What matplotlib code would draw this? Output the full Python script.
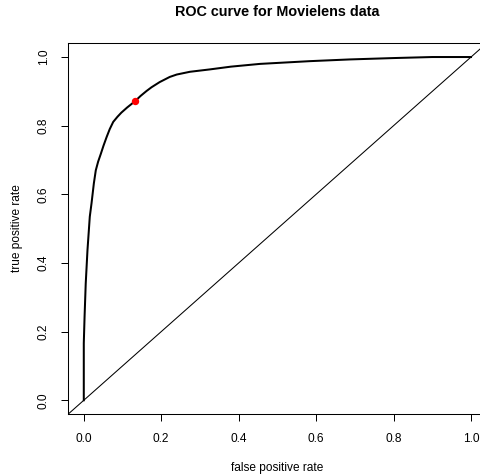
import matplotlib
matplotlib.use("Agg")
import matplotlib.pyplot as plt

plt.rcParams["font.family"] = ["Liberation Sans", "DejaVu Sans"]

# ROC curve points
fpr = [0.0, 0.0, 0.002, 0.005, 0.0095, 0.0155, 0.02, 0.026, 0.031, 0.037,
       0.044, 0.051, 0.059, 0.067, 0.076, 0.087, 0.097, 0.112, 0.132, 0.147,
       0.162, 0.175, 0.196, 0.222, 0.24, 0.274, 0.326, 0.38, 0.455, 0.584,
       0.687, 0.80, 0.90, 1.0]
tpr = [0.0, 0.166, 0.243, 0.34, 0.437, 0.535, 0.574, 0.632, 0.67, 0.695,
       0.718, 0.742, 0.767, 0.790, 0.811, 0.826, 0.838, 0.853, 0.871, 0.887,
       0.901, 0.912, 0.927, 0.942, 0.949, 0.957, 0.964, 0.972, 0.980, 0.988,
       0.993, 0.997, 1.0, 1.0]

# chosen cut-off point
best_fpr = [0.132]
best_tpr = [0.871]

ticks = [0.0, 0.2, 0.4, 0.6, 0.8, 1.0]
tick_labels = ["0.0", "0.2", "0.4", "0.6", "0.8", "1.0"]

W, H = 481, 475
fig = plt.figure(figsize=(W / 100, H / 100), dpi=100)
ax = fig.add_axes([68.3 / W, 61 / H, 418.2 / W, 370.7 / H])

ax.plot(fpr, tpr, color="black", lw=1.45)
ax.axline((0, 0), (1, 1), color="black", lw=0.75)
ax.plot(best_fpr, best_tpr, "o", color="red", ms=4.3, mec="red")

ax.set_xlim(-0.04, 1.04)
ax.set_ylim(-0.04, 1.04)
ax.set_xticks(ticks)
ax.set_xticklabels(tick_labels)
ax.set_yticks(ticks)
ax.set_yticklabels(tick_labels, rotation=90, va="center")
ax.tick_params(length=5.2, width=0.72, labelsize=8.6, color="black")
ax.tick_params(axis="x", pad=8.5)
ax.tick_params(axis="y", pad=8)
for s in ax.spines.values():
    s.set_linewidth(0.75)

fig.text(277 / W, 1 - 12.5 / H, "ROC curve for Movielens data",
         ha="center", va="center", fontsize=10.4, fontweight="bold")
fig.text(277 / W, 1 - 468 / H, "false positive rate",
         ha="center", va="center", fontsize=8.6)
fig.text(17 / W, 1 - 228 / H, "true positive rate",
         ha="center", va="center", fontsize=8.6, rotation=90)

fig.savefig("out.png", dpi=100)
